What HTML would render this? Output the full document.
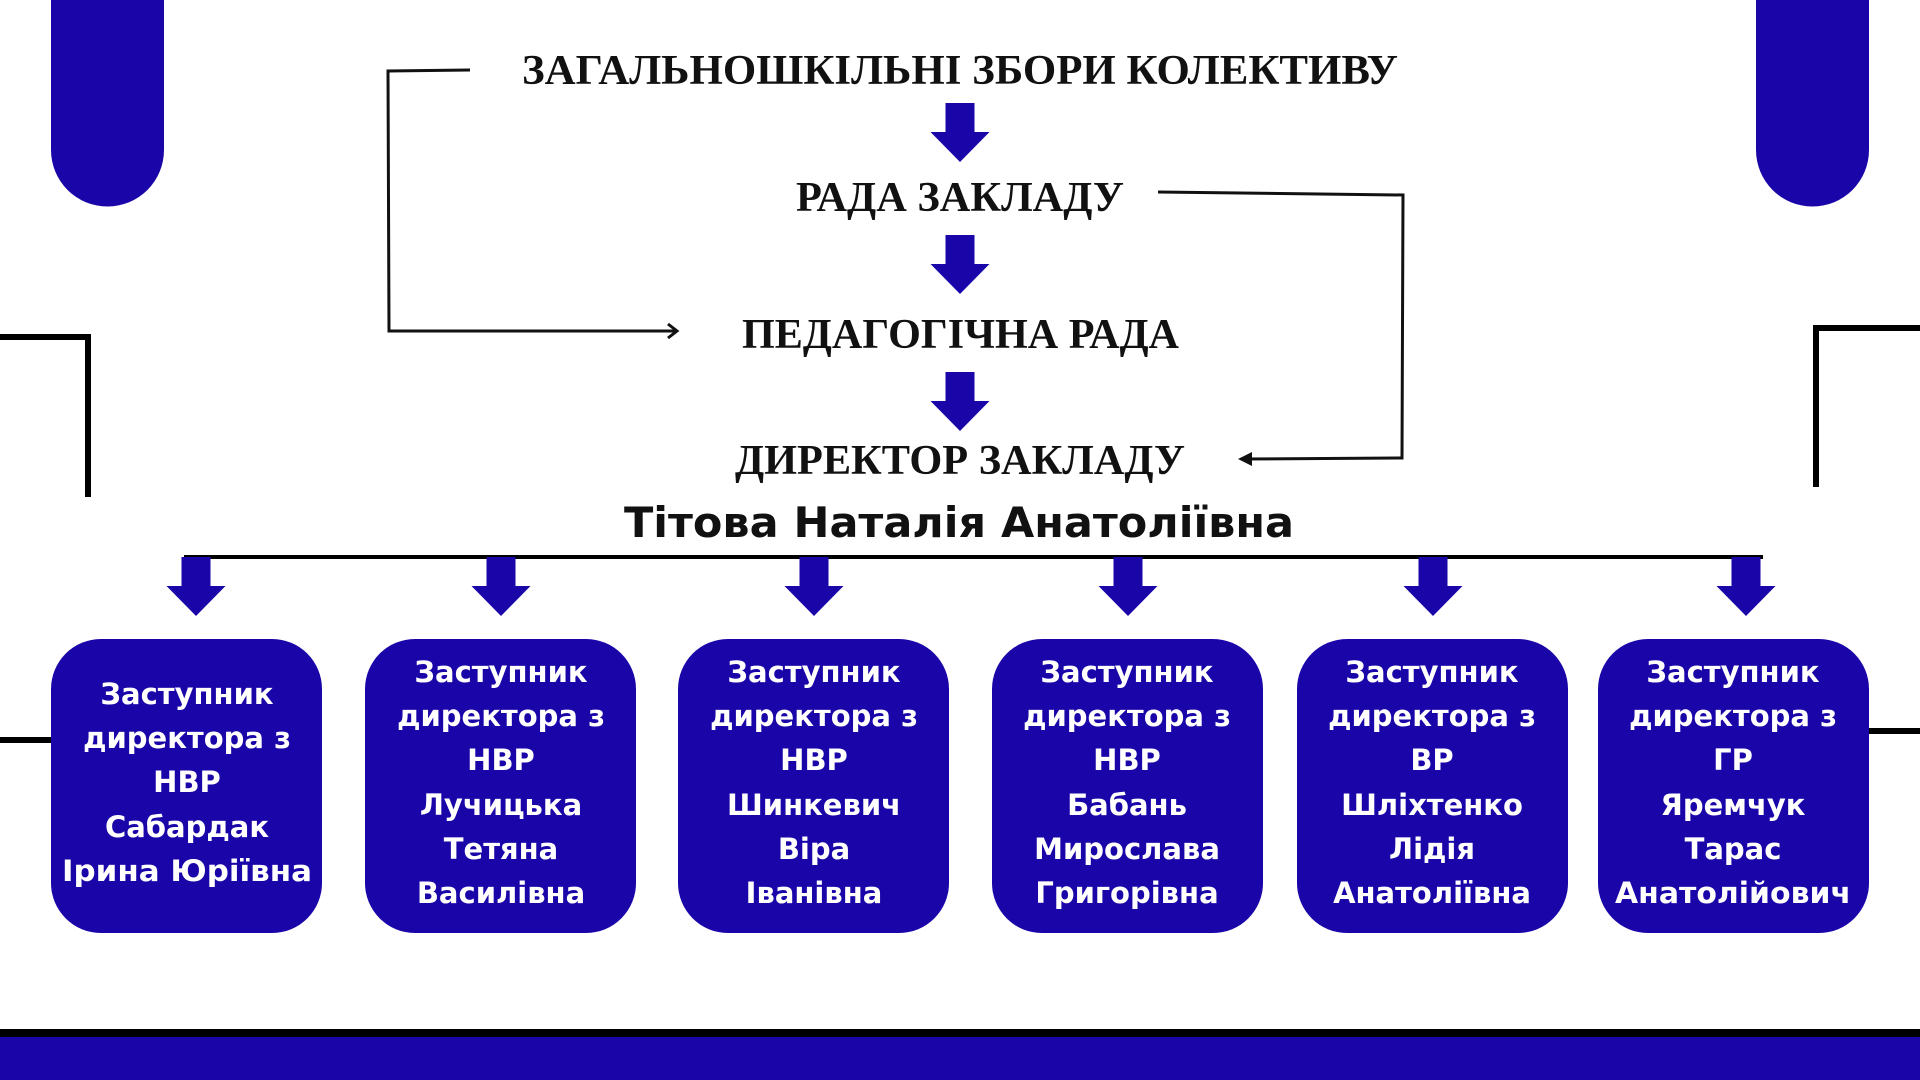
<!DOCTYPE html>
<html><head><meta charset="utf-8"><style>
html,body{margin:0;padding:0;background:#fff;width:1920px;height:1080px;overflow:hidden}
svg{display:block}
.t{font-family:"Liberation Serif","Noto Serif CJK SC",serif;font-weight:bold;fill:#111;}
.b{font-family:"DejaVu Sans","Liberation Sans",sans-serif;font-weight:bold;fill:#fff;font-size:29px;text-anchor:middle}
</style></head><body>
<svg width="1920" height="1080" viewBox="0 0 1920 1080" xmlns="http://www.w3.org/2000/svg">
<defs>
<g id="ar"><path d="M-14.5,0 H14.5 V29 H29.5 L0,59 L-29.5,29 H-14.5 Z" fill="#1a06a8"/></g>
</defs>
<path d="M51,0 H164 V150 A56.5,56.5 0 0 1 51,150 Z" fill="#1a06a8"/>
<path d="M1756,0 H1869 V150 A56.5,56.5 0 0 1 1756,150 Z" fill="#1a06a8"/>
<polyline points="0,337 88,337 88,497" fill="none" stroke="#000" stroke-width="6"/>
<polyline points="1920,328 1816,328 1816,487" fill="none" stroke="#000" stroke-width="6"/>
<line x1="0" y1="740" x2="51" y2="740" stroke="#000" stroke-width="6"/>
<line x1="1869" y1="731" x2="1920" y2="731" stroke="#000" stroke-width="6"/>
<rect x="0" y="1029" width="1920" height="8" fill="#000"/>
<rect x="0" y="1037" width="1920" height="43" fill="#1a06a8"/>
<text class="t" x="522" y="84" font-size="42" textLength="876" lengthAdjust="spacingAndGlyphs">ЗАГАЛЬНОШКІЛЬНІ ЗБОРИ КОЛЕКТИВУ</text>
<use href="#ar" x="960" y="103"/>
<text class="t" x="796" y="211" font-size="42" textLength="328" lengthAdjust="spacingAndGlyphs">РАДА ЗАКЛАДУ</text>
<use href="#ar" x="960" y="235"/>
<text class="t" x="742" y="348" font-size="42" textLength="437" lengthAdjust="spacingAndGlyphs">ПЕДАГОГІЧНА РАДА</text>
<use href="#ar" x="960" y="372"/>
<text class="t" x="735" y="474" font-size="42" textLength="450" lengthAdjust="spacingAndGlyphs">ДИРЕКТОР ЗАКЛАДУ</text>
<text x="624" y="537" font-family="DejaVu Sans,Liberation Sans,sans-serif" font-weight="bold" font-size="42" fill="#111" textLength="670" lengthAdjust="spacingAndGlyphs">Тітова Наталія Анатоліївна</text>
<polyline points="470,70 388,71 389,331 676,331" fill="none" stroke="#111" stroke-width="3"/>
<polyline points="668,324 677,331 668,338" fill="none" stroke="#111" stroke-width="3"/>
<polyline points="1158,192 1403,195 1402,458 1242,459" fill="none" stroke="#111" stroke-width="3"/>
<path d="M1238,459 L1252,452 L1252,466 Z" fill="#111"/>
<line x1="184" y1="557" x2="1763" y2="557" stroke="#000" stroke-width="4"/>
<use href="#ar" x="196" y="557"/><use href="#ar" x="501" y="557"/><use href="#ar" x="814" y="557"/>
<use href="#ar" x="1128" y="557"/><use href="#ar" x="1433" y="557"/><use href="#ar" x="1746" y="557"/>
<g fill="#1a06a8">
<rect x="51" y="639" width="271" height="294" rx="50"/>
<rect x="365" y="639" width="271" height="294" rx="50"/>
<rect x="678" y="639" width="271" height="294" rx="50"/>
<rect x="992" y="639" width="271" height="294" rx="50"/>
<rect x="1297" y="639" width="271" height="294" rx="50"/>
<rect x="1598" y="639" width="271" height="294" rx="50"/>
</g>
<text class="b"><tspan x="187" y="704">Заступник</tspan><tspan x="187" y="748">директора з</tspan><tspan x="187" y="792">НВР</tspan><tspan x="187" y="837">Сабардак</tspan><tspan x="187" y="881" textLength="250" lengthAdjust="spacingAndGlyphs">Ірина Юріївна</tspan></text>
<text class="b"><tspan x="501" y="682">Заступник</tspan><tspan x="501" y="726">директора з</tspan><tspan x="501" y="770">НВР</tspan><tspan x="501" y="815">Лучицька</tspan><tspan x="501" y="859">Тетяна</tspan><tspan x="501" y="903">Василівна</tspan></text>
<text class="b"><tspan x="814" y="682">Заступник</tspan><tspan x="814" y="726">директора з</tspan><tspan x="814" y="770">НВР</tspan><tspan x="814" y="815">Шинкевич</tspan><tspan x="814" y="859">Віра</tspan><tspan x="814" y="903">Іванівна</tspan></text>
<text class="b"><tspan x="1127" y="682">Заступник</tspan><tspan x="1127" y="726">директора з</tspan><tspan x="1127" y="770">НВР</tspan><tspan x="1127" y="815">Бабань</tspan><tspan x="1127" y="859">Мирослава</tspan><tspan x="1127" y="903">Григорівна</tspan></text>
<text class="b"><tspan x="1432" y="682">Заступник</tspan><tspan x="1432" y="726">директора з</tspan><tspan x="1432" y="770">ВР</tspan><tspan x="1432" y="815">Шліхтенко</tspan><tspan x="1432" y="859">Лідія</tspan><tspan x="1432" y="903">Анатоліївна</tspan></text>
<text class="b"><tspan x="1733" y="682">Заступник</tspan><tspan x="1733" y="726">директора з</tspan><tspan x="1733" y="770">ГР</tspan><tspan x="1733" y="815">Яремчук</tspan><tspan x="1733" y="859">Тарас</tspan><tspan x="1733" y="903" textLength="236" lengthAdjust="spacingAndGlyphs">Анатолійович</tspan></text>
</svg>
</body></html>
